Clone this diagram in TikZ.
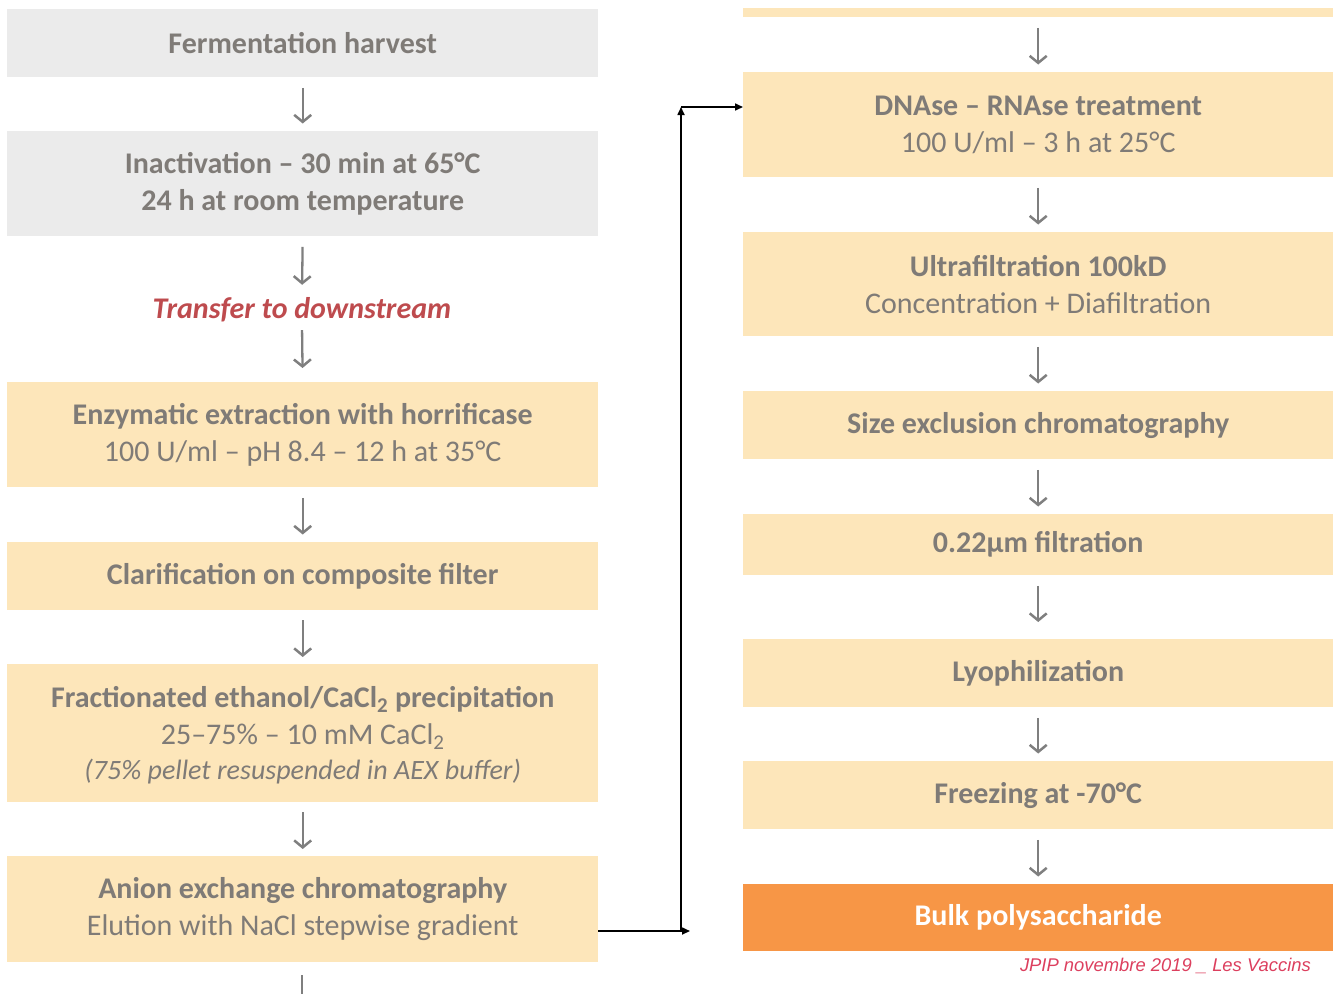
\documentclass[tikz,border=0pt]{standalone}
\usepackage{fontspec}
\setmainfont{Carlito}
\newfontfamily\footfont{Liberation Sans}
\usetikzlibrary{arrows.meta}

\definecolor{boxgrey}{HTML}{EBEBEB}
\definecolor{boxcream}{HTML}{FDE6BA}
\definecolor{boxorange}{HTML}{F79646}
\definecolor{txtgrey}{HTML}{7F7B77}
\definecolor{arrowgrey}{HTML}{7F7F7F}
\definecolor{accentred}{HTML}{BE4B4E}
\definecolor{footred}{HTML}{DC3F5E}

\tikzset{
  stage/.style={anchor=north west, inner sep=0pt, minimum width=591pt,
    align=center, text=txtgrey, fill=boxcream,
    font=\fontsize{30}{37}\selectfont},
  greystage/.style={stage, fill=boxgrey},
  rstage/.style={stage, minimum width=590pt},
  finalstage/.style={rstage, fill=boxorange, text=white},
  flow/.style={draw=arrowgrey, line width=2.3pt,
    -{Straight Barb[length=7pt,width=17pt,line width=2.5pt]},
    shorten <=10.5pt, shorten >=7.5pt},
  conn/.style={draw=black, line width=1.6pt,
    -{Triangle[length=8pt,width=7pt]}},
}

\begin{document}
\begin{tikzpicture}[x=1pt,y=-1pt]
\useasboundingbox (0,0) rectangle (1337,993);

% left column: upstream and first purification steps
\node[greystage, minimum height=68pt] (ferm) at (7,9) {\textbf{Fermentation harvest}};
\node[greystage, minimum height=105pt] (inact) at (7,131)
  {\textbf{Inactivation -- 30 min at 65°C}\\\textbf{24 h at room temperature}};
\node[inner sep=0pt, minimum height=30pt, text=accentred,
  font=\fontsize{30}{37}\selectfont\bfseries\itshape] (transfer) at (302,310)
  {Transfer to downstream};
\node[stage, minimum height=105pt] (enz) at (7,382)
  {\textbf{Enzymatic extraction with horrificase}\\100 U/ml -- pH 8.4 -- 12 h at 35°C};
\node[stage, minimum height=68pt] (clar) at (7,542)
  {\textbf{Clarification on composite filter}};
\node[stage, minimum height=138pt, text depth=0pt] (frac) at (7,664)
  {\textbf{Fractionated ethanol/CaCl\textsubscript{2} precipitation}\\
   25--75\% -- 10 mM CaCl\textsubscript{2}\\[-2pt]
   {\fontsize{28}{34}\selectfont\itshape (75\% pellet resuspended in AEX buffer)}};
\node[stage, minimum height=106pt] (aex) at (7,856)
  {\textbf{Anion exchange chromatography}\\Elution with NaCl stepwise gradient};

% right column: polishing steps
\node[rstage, minimum height=9pt] (prev) at (743,8) {};
\node[rstage, minimum height=105pt] (dnase) at (743,72)
  {\textbf{DNAse -- RNAse treatment}\\100 U/ml -- 3 h at 25°C};
\node[rstage, minimum height=104pt] (ultra) at (743,232)
  {\textbf{Ultrafiltration 100kD}\\Concentration + Diafiltration};
\node[rstage, minimum height=68pt] (sec) at (743,391)
  {\textbf{Size exclusion chromatography}};
\node[rstage, minimum height=61pt] (filt) at (743,514)
  {\textbf{0.22µm filtration}};
\node[rstage, minimum height=68pt] (lyo) at (743,639)
  {\textbf{Lyophilization}};
\node[rstage, minimum height=68pt] (freeze) at (743,761)
  {\textbf{Freezing at -70°C}};
\node[finalstage, minimum height=67pt] (bulk) at (743,884)
  {\textbf{Bulk polysaccharide}};

\node[anchor=east, inner sep=0pt, text=footred,
  font=\footfont\fontsize{18.4}{22}\selectfont\itshape] (foot) at (1311,966)
  {JPIP novembre 2019 \_ Les Vaccins};

% step arrows, left column
\draw[flow] (ferm.south) -- (inact.north);
\draw[flow, shorten >=10pt] (inact.south) -- (transfer.north);
\draw[flow, shorten <=5pt, shorten >=14pt] (transfer.south) -- (enz.north);
\draw[flow] (enz.south) -- (clar.north);
\draw[flow, shorten <=10pt, shorten >=7pt] (clar.south) -- (frac.north);
\draw[flow, shorten <=10pt, shorten >=7pt] (frac.south) -- (aex.north);
\coordinate (stubtop) at (302,975);
\coordinate (stubend) at (302,1000);
\draw[draw=arrowgrey, line width=2.3pt] (stubtop) -- (stubend);

% step arrows, right column
\draw[flow] (prev.south) -- (dnase.north);
\draw[flow] (dnase.south) -- (ultra.north);
\draw[flow] (ultra.south) -- (sec.north);
\draw[flow] (sec.south) -- (filt.north);
\draw[flow, shorten >=17pt] (filt.south) -- (lyo.north);
\draw[flow] (lyo.south) -- (freeze.north);
\draw[flow] (freeze.south) -- (bulk.north);

% link from the anion exchange step to the DNAse step
\coordinate (jb) at (681,931);
\coordinate (jt) at (681,107);
\coordinate (tipa) at (690,931);
\draw[conn] (jb -| aex.east) -- (tipa);
\draw[conn] (jb) -- (jt);
\draw[conn] (jt) -- (jt -| dnase.west);
\end{tikzpicture}
\end{document}
